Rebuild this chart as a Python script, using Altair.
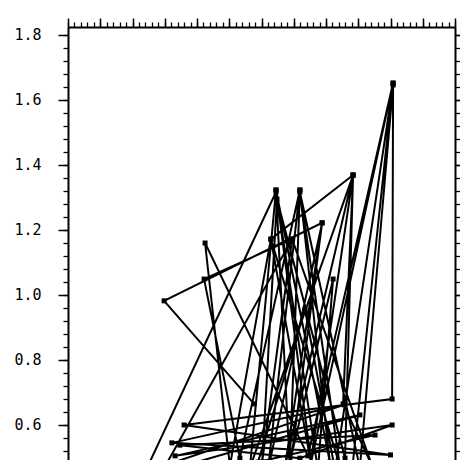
import altair as alt
import pandas as pd

xs = [5.77, 2.98, 7.88, 6.88, 6.45, 8.12, 7.19, 5.33, 4.22, 6.95,
      6.02, 6.48, 8.59, 8.84, 6.29, 5.02, 4.25, 7.44, 10.08, 10.05,
      3.60, 10.00, 3.22, 8.56, 2.39, 6.45, 7.75, 8.22, 6.88, 7.19,
      9.05, 10.08, 8.28, 7.35, 5.89, 9.52, 3.47, 7.19, 10.05, 3.32,
      9.05, 2.91, 6.95, 9.43, 8.53, 8.84, 5.64, 6.45, 7.57, 6.29,
      8.43, 7.19, 6.20, 7.88, 6.73, 8.84, 7.50, 10.08, 8.81]
ys = [0.665, 0.982, 1.222, 0.462, 1.323, 0.486, 1.323, 0.498, 1.049, 1.172,
      0.486, 1.295, 0.498, 1.369, 1.172, 0.474, 1.160, 0.505, 1.652, 0.680,
      0.600, 0.508, 0.545, 0.662, 0.455, 1.317, 0.462, 1.049, 0.486, 1.317,
      0.468, 1.646, 0.462, 0.954, 0.486, 0.569, 0.538, 0.498, 0.600, 0.505,
      0.631, 0.455, 1.172, 0.474, 0.665, 1.369, 0.468, 1.323, 0.462, 1.172,
      0.474, 1.323, 0.462, 1.222, 0.474, 1.369, 0.468, 1.652, 0.462]

y_major = [0.6, 0.8, 1.0, 1.2, 1.4, 1.6, 1.8]
y_minor = [round(0.52 + 0.04 * i, 2) for i in range(33)]
x_major = list(range(13))
x_minor = [round(0.2 * i, 1) for i in range(61)]

df = pd.DataFrame({"x": xs, "y": ys, "i": list(range(len(xs)))})

xscale = alt.Scale(domain=[0, 12], nice=False, zero=False)
yscale = alt.Scale(domain=[0.4923, 1.8246], nice=False, zero=False)

common = dict(title=None, grid=False, domainColor="black", tickColor="black")

base = alt.Chart(df)

line = base.mark_line(color="black", strokeWidth=2, clip=True).encode(
    x=alt.X("x:Q", scale=xscale,
            axis=alt.Axis(orient="top", values=x_major, tickSize=9, labels=False,
                          domainWidth=2, tickWidth=1.5, **common)),
    y=alt.Y("y:Q", scale=yscale,
            axis=alt.Axis(orient="left", values=y_major, tickSize=10, labels=True,
                          labelFont="DejaVu Sans Mono", labelFontSize=15,
                          labelColor="black", labelPadding=17,
                          labelExpr="format(datum.value, '.1f')",
                          domainWidth=2, tickWidth=1.5, **common)),
    order="i:Q",
)

pts = base.mark_point(shape="square", filled=True, color="black", size=25,
                      opacity=1, clip=True).encode(
    x=alt.X("x:Q", scale=xscale,
            axis=alt.Axis(orient="top", values=x_minor, tickSize=5, labels=False,
                          domain=False, tickWidth=1.3, **common)),
    y=alt.Y("y:Q", scale=yscale,
            axis=alt.Axis(orient="left", values=y_minor, tickSize=5, labels=False,
                          domain=False, tickWidth=1.3, **common)),
)

right_major = base.mark_point(opacity=0).encode(
    x=alt.X("x:Q", scale=xscale,
            axis=alt.Axis(orient="bottom", ticks=False, labels=False,
                          domainWidth=1, title=None, grid=False,
                          domainColor="#9a9a9a")),
    y=alt.Y("y:Q", scale=yscale,
            axis=alt.Axis(orient="right", values=y_major, tickSize=10, labels=False,
                          domainWidth=2, tickWidth=1.5, **common)),
)

right_minor = base.mark_point(opacity=0).encode(
    x=alt.X("x:Q", scale=xscale, axis=None),
    y=alt.Y("y:Q", scale=yscale,
            axis=alt.Axis(orient="right", values=y_minor, tickSize=5, labels=False,
                          domain=False, tickWidth=1.3, **common)),
)

chart = alt.layer(line, pts, right_major, right_minor).resolve_axis(
    x="independent", y="independent"
).properties(
    width=387, height=433,
    autosize=alt.AutoSizeParams(type="none"),
    padding={"left": 60, "top": 19, "right": 5, "bottom": 0},
    background="white",
).configure_view(stroke=None)

chart.save("out.html", embed_options={"renderer": "svg", "actions": False})
